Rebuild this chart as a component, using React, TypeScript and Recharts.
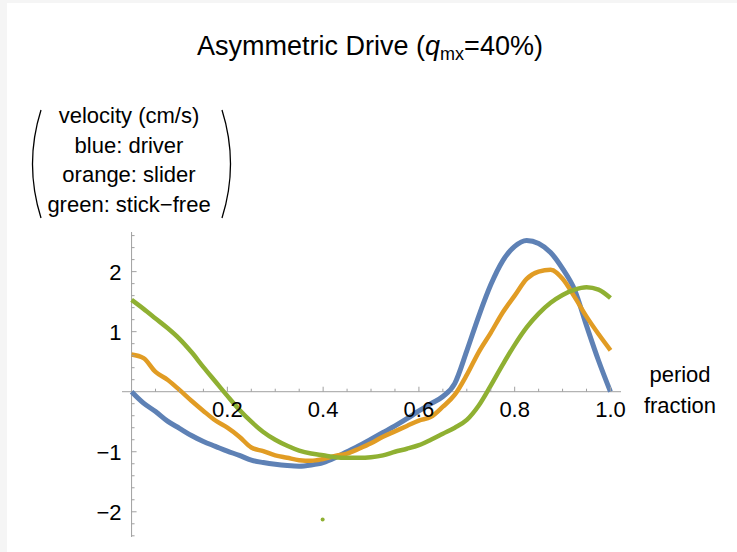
import { ComposedChart, Line, Scatter, XAxis, YAxis, ReferenceLine } from 'recharts'

// period fraction samples
const phase = [
  0, 0.025, 0.05, 0.075, 0.1, 0.125, 0.15, 0.175, 0.2, 0.225, 0.25, 0.275, 0.3, 0.325, 0.35, 0.375, 0.4,
  0.425, 0.45, 0.475, 0.5, 0.525, 0.55, 0.575, 0.6, 0.625, 0.65, 0.675, 0.7, 0.725, 0.75, 0.775, 0.8,
  0.825, 0.85, 0.875, 0.9, 0.925, 0.95, 0.975, 1.0,
]

// velocity (cm/s)
const driver = [
  0.0, -0.19, -0.33, -0.49, -0.61, -0.73, -0.83, -0.91, -0.99, -1.06, -1.14, -1.18, -1.21, -1.23, -1.24, -1.22, -1.18,
  -1.1, -1.0, -0.9, -0.79, -0.68, -0.57, -0.45, -0.32, -0.2, -0.08, 0.14, 0.68, 1.26, 1.78, 2.18, 2.42,
  2.52, 2.47, 2.32, 2.05, 1.7, 1.1, 0.52, 0.0,
]
const slider = [
  0.62, 0.56, 0.33, 0.2, 0.03, -0.15, -0.32, -0.48, -0.6, -0.75, -0.93, -0.99, -1.06, -1.1, -1.14, -1.15, -1.12,
  -1.07, -1.03, -0.95, -0.86, -0.75, -0.66, -0.57, -0.48, -0.42, -0.25, -0.05, 0.28, 0.66, 0.98, 1.32, 1.6,
  1.88, 2.0, 2.03, 1.88, 1.58, 1.25, 0.96, 0.69,
]
const stickFree = [
  1.53, 1.38, 1.22, 1.06, 0.88, 0.66, 0.41, 0.17, -0.07, -0.3, -0.5, -0.67, -0.8, -0.9, -0.98, -1.03, -1.06,
  -1.09, -1.1, -1.1, -1.09, -1.06, -1.0, -0.95, -0.89, -0.8, -0.7, -0.6, -0.47, -0.23, 0.1, 0.45, 0.78,
  1.07, 1.3, 1.48, 1.61, 1.7, 1.74, 1.7, 1.56,
]
// lone stick-free sample
const strayPhase = [0.399]
const strayVelocity = [-2.13]

const xTicks = [
  0.05, 0.1, 0.15, 0.2, 0.25, 0.3, 0.35, 0.4, 0.45, 0.5, 0.55, 0.6, 0.65, 0.7, 0.75, 0.8, 0.85, 0.9, 0.95, 1.0,
]
const xLabeled = [0.2, 0.4, 0.6, 0.8, 1.0]
const yTicks = [
  -2.4, -2.2, -2, -1.8, -1.6, -1.4, -1.2, -1, -0.8, -0.6, -0.4, -0.2, 0.2, 0.4, 0.6, 0.8, 1, 1.2, 1.4, 1.6, 1.8, 2,
  2.2, 2.4, 2.6,
]
const yLabeled = [-2, -1, 1, 2]
const yLabelLines = ['velocity (cm/s)', 'blue: driver', 'orange: slider', 'green: stick\u2212free']

const rows = phase.map((t, i) => ({ t, driver: driver[i], slider: slider[i], stickFree: stickFree[i] }))
const strayRows = strayPhase.map((t, i) => ({ t, v: strayVelocity[i] }))

const W = 737
const H = 552
const AX_W = 2
const M = { top: 232, right: 116, bottom: 15 - AX_W, left: 122 - AX_W }
const X_MIN = -0.02
const X_MAX = 1.022
const Y_MIN = -2.42
const Y_MAX = 2.66
const plotLeft = M.left + AX_W
const plotW = W - plotLeft - M.right
const plotH = H - M.top - M.bottom - AX_W
const ORIGIN_X = plotLeft + ((0 - X_MIN) / (X_MAX - X_MIN)) * plotW
const ORIGIN_Y = M.top + ((Y_MAX - 0) / (Y_MAX - Y_MIN)) * plotH

const FONT = '"Liberation Sans", Arial, sans-serif'
const AXIS = '#a0a0a0'
const TEXT = '#000'

const fmtX = (v: number) => v.toFixed(1)
const fmtY = (v: number) => (v < 0 ? '\u2212' + Math.abs(v) : String(v))
const isMajor = (list: number[], v: number) => list.some((m) => Math.abs(m - v) < 1e-6)

function XTick(props: any) {
  const { x, payload } = props
  const major = isMajor(xLabeled, payload.value)
  return (
    <g>
      <line x1={x} x2={x} y1={ORIGIN_Y} y2={ORIGIN_Y - (major ? 5 : 3)} stroke={AXIS} />
      {major && (
        <text x={x} y={ORIGIN_Y + 25} textAnchor="middle" fontSize={22} fontFamily={FONT} fill={TEXT}>
          {fmtX(payload.value)}
        </text>
      )}
    </g>
  )
}

function YTick(props: any) {
  const { y, payload } = props
  const major = isMajor(yLabeled, payload.value)
  return (
    <g>
      <line x1={ORIGIN_X} x2={ORIGIN_X + (major ? 5 : 3)} y1={y} y2={y} stroke={AXIS} />
      {major && (
        <text x={ORIGIN_X - 10} y={y + 8} textAnchor="end" fontSize={22} fontFamily={FONT} fill={TEXT}>
          {fmtY(payload.value)}
        </text>
      )}
    </g>
  )
}

export default function App() {
  return (
    <div style={{ position: 'absolute', left: 0, top: 0, width: W, height: H, background: '#f5f5f5' }}>
      <div style={{ position: 'absolute', left: 7, top: 3, width: W - 7, height: H - 3, background: '#fff' }} />
      <div style={{ position: 'absolute', left: 0, top: 0 }}>
        <ComposedChart width={W} height={H} data={rows} margin={M}>
          <XAxis
            dataKey="t"
            type="number"
            domain={[X_MIN, X_MAX]}
            ticks={xTicks}
            interval={0}
            allowDataOverflow
            axisLine={false}
            tickLine={false}
            height={AX_W}
            tick={XTick}
          />
          <YAxis
            type="number"
            domain={[Y_MIN, Y_MAX]}
            ticks={yTicks}
            interval={0}
            allowDataOverflow
            axisLine={false}
            tickLine={false}
            width={AX_W}
            tick={YTick}
          />
          <ReferenceLine y={0} stroke={AXIS} strokeWidth={1} />
          <ReferenceLine x={0} stroke={AXIS} strokeWidth={1} />
          <Line
            type="monotone"
            dataKey="driver"
            stroke="#5E81B5"
            strokeWidth={5}
            dot={false}
            activeDot={false}
            isAnimationActive={false}
          />
          <Line
            type="monotone"
            dataKey="slider"
            stroke="#E19C24"
            strokeWidth={4.5}
            dot={false}
            activeDot={false}
            isAnimationActive={false}
          />
          <Line
            type="monotone"
            dataKey="stickFree"
            stroke="#8FB032"
            strokeWidth={4.5}
            dot={false}
            activeDot={false}
            isAnimationActive={false}
          />
          <Scatter
            data={strayRows}
            dataKey="v"
            fill="#8FB032"
            shape={(p: any) => <circle cx={p.cx} cy={p.cy} r={2} fill="#8FB032" />}
            isAnimationActive={false}
          />
        </ComposedChart>
      </div>
      <svg
        width={W}
        height={H}
        style={{ position: 'absolute', left: 0, top: 0, pointerEvents: 'none' }}
        fontFamily={FONT}
      >
        <text x={370} y={55} textAnchor="middle" fontSize={27} fill={TEXT}>
          Asymmetric Drive (<tspan fontStyle="italic">q</tspan>
          <tspan fontSize={18} dy={5}>
            mx
          </tspan>
          <tspan dy={-5}>=40%)</tspan>
        </text>
        {yLabelLines.map((s, i) => (
          <text key={s} x={129} y={123 + i * 29.5} textAnchor="middle" fontSize={22} fill={TEXT}>
            {s}
          </text>
        ))}
        <path d="M 41 110 Q 24 164 41 218" fill="none" stroke={TEXT} strokeWidth={1.3} />
        <path d="M 222 110 Q 239 164 222 218" fill="none" stroke={TEXT} strokeWidth={1.3} />
        <text x={680} y={382} textAnchor="middle" fontSize={22} fill={TEXT}>
          period
        </text>
        <text x={680} y={413} textAnchor="middle" fontSize={22} fill={TEXT}>
          fraction
        </text>
      </svg>
    </div>
  )
}
